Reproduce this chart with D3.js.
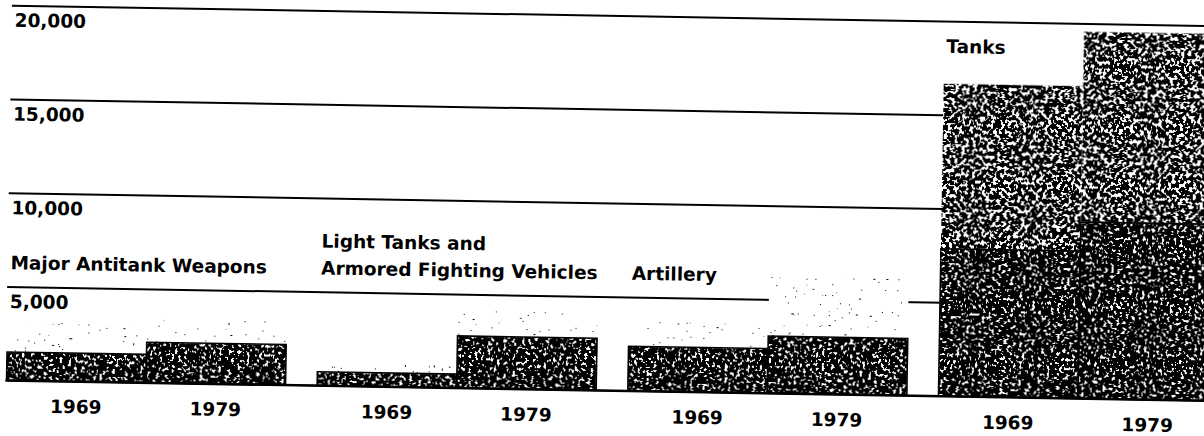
<!DOCTYPE html>
<html>
<head>
<meta charset="utf-8">
<script src="https://cdn.jsdelivr.net/npm/d3@7"></script>
<style>
  html, body { margin: 0; padding: 0; background: #fff; }
  svg { display: block; }
  text { font-family: "DejaVu Sans", sans-serif; font-weight: bold; fill: #000; }
</style>
</head>
<body>
<svg id="chart" width="1204" height="436"></svg>
<script>
// ---- data ----
const categories = [
  "Major Antitank Weapons",
  "Light Tanks and\nArmored Fighting Vehicles",
  "Artillery",
  "Tanks"
];
const years = ["1969", "1979"];
// lower (heavily stippled) segment of each bar
const lower1969 = [1500, 730, 2370, 7850];
const lower1979 = [2150, 2770, 3040, 9400];
// upper (light screen) segment stacked on top
const upper1969 = [1650, 470, 1330, 8800];
const upper1979 = [1300, 1330, 3310, 10150];
// y axis
const tickValues = [5000, 10000, 15000, 20000];
const tickLabels = ["5,000", "10,000", "15,000", "20,000"];

// ---- build table ----
const rows = [];
categories.forEach((c, i) => {
  rows.push({ category: c, year: "1969", lower: lower1969[i], upper: upper1969[i] });
  rows.push({ category: c, year: "1979", lower: lower1979[i], upper: upper1979[i] });
});
const stacked = d3.stack().keys(["lower", "upper"])(rows);

// ---- layout ----
const W = 1204, H = 436;
const svg = d3.select("#chart");
svg.append("rect").attr("width", W).attr("height", H).attr("fill", "#fff");

const defs = svg.append("defs");
function makeStipple(id, threshold, freq, seed) {
  const f = defs.append("filter").attr("id", id)
    .attr("x", 0).attr("y", 0).attr("width", 1).attr("height", 1)
    .attr("color-interpolation-filters", "sRGB");
  f.append("feTurbulence").attr("type", "fractalNoise")
    .attr("baseFrequency", freq).attr("numOctaves", 2).attr("seed", seed).attr("result", "noise");
  f.append("feColorMatrix").attr("in", "noise").attr("type", "matrix")
    .attr("values", "0 0 0 0 0  0 0 0 0 0  0 0 0 0 0  1 0 0 0 0").attr("result", "mask");
  const ct = f.append("feComponentTransfer").attr("in", "mask").attr("result", "dots");
  ct.append("feFuncA").attr("type", "linear").attr("slope", -200).attr("intercept", 200 * threshold);
  f.append("feFlood").attr("flood-color", "#fff").attr("result", "paper");
  const m = f.append("feMerge").attr("result", "tex");
  m.append("feMergeNode").attr("in", "paper");
  m.append("feMergeNode").attr("in", "dots");
  f.append("feComposite").attr("in", "tex").attr("in2", "SourceGraphic").attr("operator", "in");
}
makeStipple("stDark", 0.61, 0.32, 3);
makeStipple("stMid", 0.55, 0.28, 7);
makeStipple("stLight", 0.23, 0.36, 11);

// the scanned page is slightly tilted
const g = svg.append("g").attr("transform", "rotate(0.97)");

const y = d3.scaleLinear().domain([0, 20000]).range([380, 5]);
const x0 = d3.scaleBand().domain(categories).range([13, 1224]).paddingInner(0.102).paddingOuter(0);
const x1 = d3.scaleBand().domain(years).range([0, x0.bandwidth()]).padding(0);

// gridlines + tick labels
const axis = d3.axisRight(y)
  .tickValues([0].concat(tickValues))
  .tickSize(1240)
  .tickFormat(d => d === 0 ? "" : tickLabels[tickValues.indexOf(d)]);
const ax = g.append("g").attr("transform", "translate(12,0)").call(axis);
ax.select(".domain").remove();
ax.selectAll(".tick line").attr("stroke", "#000").attr("stroke-width", 2);
ax.selectAll(".tick text")
  .attr("x", 3).attr("y", 21).attr("dy", 0)
  .attr("text-anchor", "start")
  .style("font-family", "'DejaVu Sans', sans-serif")
  .style("font-weight", "bold")
  .style("font-size", "18.5px")
  .attr("fill", "#000");

// bars
const barX = d => x0(d.data.category) + x1(d.data.year);
const upperDense = new Set(["Tanks"]);
stacked.forEach(layer => {
  const isLower = layer.key === "lower";
  g.append("g").selectAll("rect").data(layer).join("rect")
    .attr("x", barX)
    .attr("y", d => y(d[1]))
    .attr("width", x1.bandwidth())
    .attr("height", d => y(d[0]) - y(d[1]))
    .attr("fill", "#000")
    .attr("filter", d => isLower ? "url(#stDark)" :
      (upperDense.has(d.data.category) ? "url(#stMid)" : "url(#stLight)"));
});
// outline of the lower segment
g.append("g").selectAll("rect").data(stacked[0]).join("rect")
  .attr("x", barX)
  .attr("y", d => y(d[1]))
  .attr("width", x1.bandwidth())
  .attr("height", d => y(d[0]) - y(d[1]))
  .attr("fill", "none").attr("stroke", "#000").attr("stroke-width", 1.6);

// baseline on top
g.append("line").attr("x1", 12).attr("x2", 1252).attr("y1", y(0)).attr("y2", y(0))
  .attr("stroke", "#000").attr("stroke-width", 2);

// year labels
g.append("g").selectAll("text").data(rows).join("text")
  .attr("x", d => x0(d.category) + x1(d.year) + x1.bandwidth() / 2)
  .attr("y", y(0) + 32)
  .attr("text-anchor", "middle")
  .style("font-size", "18.5px")
  .text(d => d.year);

// category labels
categories.forEach((c, i) => {
  const lines = c.split("\n");
  const top1969 = y(lower1969[i] + upper1969[i]);
  const base = Math.min(269, top1969 - 31);
  const t = g.append("text")
    .attr("x", x0(c) + 2)
    .attr("y", base - 27 * (lines.length - 1))
    .style("font-size", "18.5px");
  lines.forEach((ln, k) => {
    t.append("tspan").attr("x", x0(c) + 2).attr("dy", k === 0 ? 0 : 27).text(ln);
  });
});
</script>
</body>
</html>
